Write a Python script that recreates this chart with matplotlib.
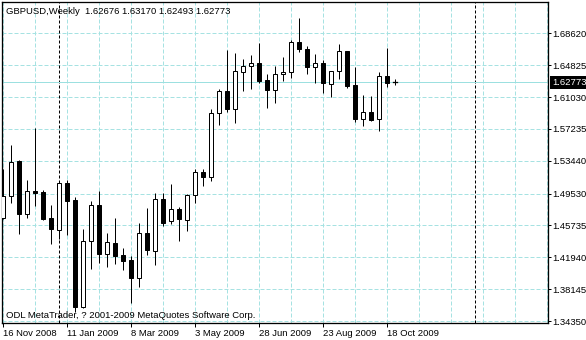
import matplotlib
matplotlib.use("Agg")
import matplotlib.pyplot as plt
from matplotlib.patches import Rectangle
import pandas as pd

plt.rcParams['font.family'] = ['Liberation Sans', 'DejaVu Sans']

# weekly GBPUSD bars
opens = [1.4658, 1.4924, 1.5341, 1.4706, 1.4984, 1.4975, 1.4666, 1.4515, 1.5075, 1.4876,
         1.3605, 1.4388, 1.4817, 1.4230, 1.4361, 1.4221, 1.4162, 1.3951, 1.4480, 1.4272,
         1.4885, 1.4626, 1.4766, 1.4638, 1.4936, 1.5206, 1.5147, 1.5909, 1.6175, 1.5964,
         1.6405, 1.6476, 1.6512, 1.6306, 1.6187, 1.6374, 1.6401, 1.6755, 1.6672, 1.6457,
         1.6505, 1.6255, 1.6409, 1.6648, 1.6243, 1.5845, 1.5921, 1.5838, 1.6350, 1.62676]
highs = [1.5242, 1.5532, 1.5356, 1.5115, 1.5734, 1.4996, 1.4817, 1.5103, 1.5115, 1.4916,
         1.4535, 1.4864, 1.4984, 1.4480, 1.4666, 1.4308, 1.4209, 1.4599, 1.4785, 1.4956,
         1.4956, 1.5067, 1.4789, 1.4948, 1.5242, 1.5246, 1.5957, 1.6199, 1.6663, 1.6624,
         1.6552, 1.6604, 1.6743, 1.6377, 1.6473, 1.6576, 1.6782, 1.7044, 1.6711, 1.6616,
         1.6544, 1.6409, 1.6735, 1.6648, 1.6457, 1.6127, 1.6115, 1.6401, 1.6683, 1.63170]
lows = [1.4650, 1.4837, 1.4468, 1.4666, 1.4805, 1.4638, 1.4349, 1.4408, 1.4459, 1.3542,
        1.3590, 1.4051, 1.4126, 1.4082, 1.4110, 1.4043, 1.3653, 1.3844, 1.4221, 1.4102,
        1.4567, 1.4591, 1.4392, 1.4511, 1.4837, 1.5047, 1.5106, 1.5770, 1.5928, 1.5797,
        1.6175, 1.6199, 1.6274, 1.5976, 1.6028, 1.6294, 1.6333, 1.6643, 1.6377, 1.6267,
        1.6147, 1.6107, 1.6314, 1.6207, 1.5809, 1.5758, 1.5817, 1.5702, 1.6226, 1.62493]
closes = [1.4924, 1.5333, 1.4706, 1.4984, 1.4963, 1.4650, 1.4527, 1.5075, 1.4868, 1.3605,
          1.4392, 1.4817, 1.4230, 1.4373, 1.4213, 1.4153, 1.3951, 1.4480, 1.4281, 1.4885,
          1.4606, 1.4766, 1.4646, 1.4936, 1.5206, 1.5147, 1.5909, 1.6175, 1.5960, 1.6413,
          1.6473, 1.6505, 1.6294, 1.6187, 1.6374, 1.6401, 1.6759, 1.6672, 1.6457, 1.6505,
          1.6267, 1.6409, 1.6648, 1.6238, 1.5845, 1.5921, 1.5829, 1.6350, 1.6267, 1.62773]

start = pd.Timestamp("2008-11-16")
dates = [start + pd.Timedelta(weeks=i) for i in range(len(closes))]
price_levels = [1.34350, 1.38145, 1.41940, 1.45735, 1.49530, 1.53440,
                1.57235, 1.61030, 1.64825, 1.68620]
title = "GBPUSD,Weekly  1.62676 1.63170 1.62493 1.62773"
credit = "ODL MetaTrader, ? 2001-2009 MetaQuotes Software Corp."

grid_col = '#a6e2e2'
px = 0.72  # one pixel in points

fig = plt.figure(figsize=(5.86, 3.4), dpi=100)
ax = fig.add_axes([2 / 586, 17 / 340, 546 / 586, 321 / 340])
ax.set_xlim(-0.125, 68.125)
ax.set_ylim(1.34112, 1.72349)

# grid
for lv in price_levels:
    ax.axhline(lv, color=grid_col, lw=px, dashes=(4, 2), zorder=0, snap=True)
for gx in range(0, 69, 4):
    ax.axvline(gx, color=grid_col, lw=px, dashes=(4, 2), zorder=0, snap=True)

# year separators
all_weeks = [start + pd.Timedelta(weeks=i) for i in range(69)]
for i in range(1, len(all_weeks)):
    if all_weeks[i].year != all_weeks[i - 1].year:
        ax.axvline(i, color='black', lw=px, dashes=(3, 2), zorder=1, snap=True)

# last price line
ax.axhline(closes[-1], color='#9ce0e0', lw=px, zorder=1, snap=True)

# candles
for i in range(len(closes)):
    o, h, l, c = opens[i], highs[i], lows[i], closes[i]
    ax.plot([i, i], [l, h], color='black', lw=px, zorder=2, solid_capstyle='butt')
    lo, hi = min(o, c), max(o, c)
    fc = 'white' if c >= o else 'black'
    if i == len(closes) - 1:
        ax.plot([i - 0.3, i + 0.3], [c, c], color='black', lw=1.3 * px, zorder=3)
        continue
    ax.add_patch(Rectangle((i - 0.25, lo), 0.5, max(hi - lo, 0.0004), facecolor=fc,
                           edgecolor='black', lw=px, zorder=3))

for s in ax.spines.values():
    s.set_linewidth(1.3 * px)
    s.set_color('black')

# axes ticks
ax.yaxis.tick_right()
ax.set_yticks(price_levels)
ax.set_yticklabels(["%.5f" % v for v in price_levels])
ax.tick_params(axis='y', direction='out', length=3 * px, width=px, pad=1.2, labelsize=6.8)
xt = list(range(0, len(dates), 8))
ax.set_xticks(xt)
ax.set_xticklabels(["%d %s" % (dates[i].day, dates[i].strftime("%b %Y")) for i in xt],
                   ha='left')
ax.tick_params(axis='x', direction='out', length=4 * px, width=px, pad=1.5, labelsize=6.8)

# last price tag
ax.annotate("%.5f" % closes[-1], xy=(1.0, closes[-1]), xycoords=('axes fraction', 'data'),
            xytext=(3.0, 0), textcoords='offset points', ha='left', va='center',
            fontsize=6.8, color='white',
            bbox=dict(boxstyle='square,pad=0.18', fc='black', ec='none'),
            annotation_clip=False)

fig.text(6 / 586, 1 - 11 / 340, title, fontsize=6.8, va='center', ha='left')
fig.text(6 / 586, 1 - 315 / 340, credit, fontsize=6.8, va='center', ha='left')

fig.savefig("out.png", dpi=100)
